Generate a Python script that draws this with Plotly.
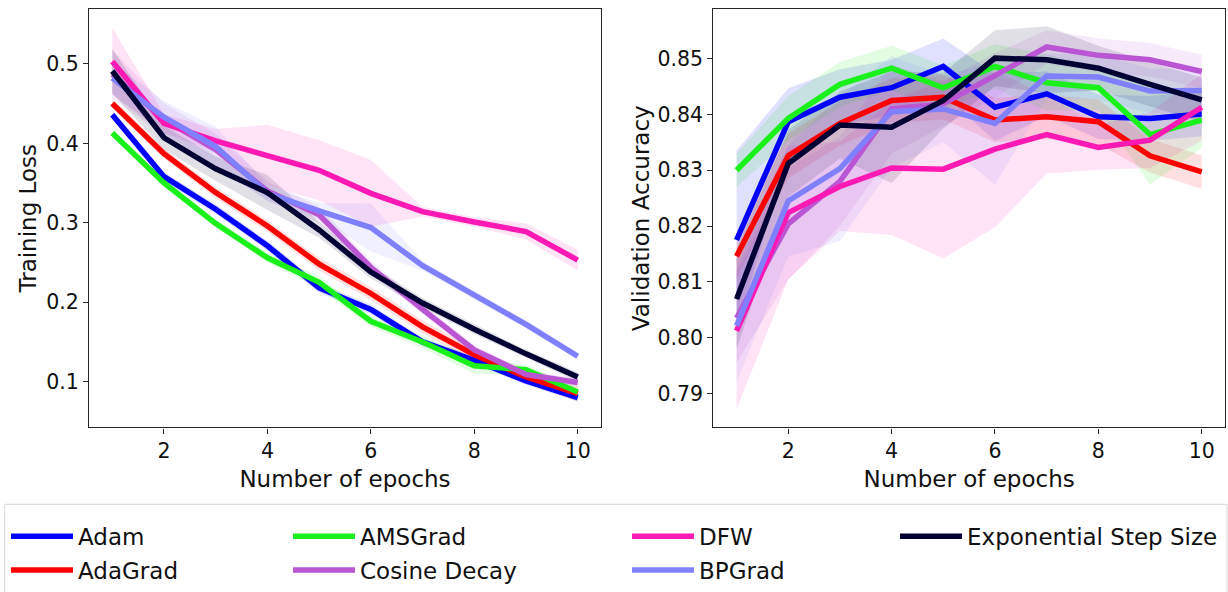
import plotly.graph_objects as go

epochs = [1, 2, 3, 4, 5, 6, 7, 8, 9, 10]
names = ["Adam", "AdaGrad", "AMSGrad", "Cosine Decay", "DFW", "BPGrad", "Exponential Step Size"]
colors = ["#0000ff", "#ff0000", "#1af01a", "#ba55d3", "#ff19b4", "#8080ff", "#000033"]

# Training loss (means)
loss_adam = [0.436, 0.358, 0.317, 0.271, 0.218, 0.191, 0.150, 0.127, 0.101, 0.080]
loss_adagrad = [0.450, 0.387, 0.338, 0.296, 0.248, 0.211, 0.169, 0.134, 0.106, 0.085]
loss_amsgrad = [0.413, 0.350, 0.299, 0.256, 0.225, 0.176, 0.150, 0.120, 0.115, 0.087]
loss_cosine = [0.487, 0.430, 0.392, 0.340, 0.310, 0.244, 0.191, 0.140, 0.109, 0.099]
loss_dfw = [0.503, 0.425, 0.403, 0.385, 0.366, 0.337, 0.314, 0.301, 0.289, 0.253]
loss_bpgrad = [0.482, 0.433, 0.396, 0.337, 0.315, 0.294, 0.246, 0.209, 0.172, 0.132]
loss_exp = [0.491, 0.407, 0.368, 0.338, 0.291, 0.238, 0.199, 0.166, 0.135, 0.106]

loss_adam_sd = [0.006, 0.006, 0.006, 0.006, 0.006, 0.006, 0.005, 0.005, 0.005, 0.005]
loss_adagrad_sd = [0.006, 0.006, 0.007, 0.007, 0.008, 0.008, 0.008, 0.008, 0.008, 0.010]
loss_amsgrad_sd = [0.005, 0.005, 0.005, 0.006, 0.008, 0.007, 0.008, 0.010, 0.006, 0.006]
loss_cosine_sd = [0.030, 0.020, 0.020, 0.012, 0.010, 0.008, 0.006, 0.006, 0.005, 0.005]
loss_dfw_sd = [0.042, 0.012, 0.015, 0.038, 0.038, 0.042, 0.006, 0.006, 0.010, 0.013]
loss_bpgrad_sd = [0.020, 0.020, 0.025, 0.010, 0.010, 0.030, 0.006, 0.006, 0.005, 0.005]
loss_exp_sd = [0.028, 0.015, 0.015, 0.022, 0.010, 0.008, 0.006, 0.006, 0.005, 0.006]

# Validation accuracy (means)
acc_adam = [0.8175, 0.8387, 0.8431, 0.8448, 0.8486, 0.8413, 0.8437, 0.8396, 0.8393, 0.8401]
acc_adagrad = [0.8146, 0.8326, 0.8384, 0.8425, 0.8431, 0.8390, 0.8396, 0.8387, 0.8326, 0.8297]
acc_amsgrad = [0.8300, 0.8393, 0.8454, 0.8483, 0.8448, 0.8486, 0.8457, 0.8448, 0.8364, 0.8390]
acc_cosine = [0.8035, 0.8204, 0.8280, 0.8410, 0.8419, 0.8470, 0.8521, 0.8506, 0.8498, 0.8477]
acc_dfw = [0.8012, 0.8224, 0.8271, 0.8304, 0.8302, 0.8338, 0.8364, 0.8341, 0.8354, 0.8413]
acc_bpgrad = [0.8021, 0.8245, 0.8303, 0.8405, 0.8410, 0.8384, 0.8469, 0.8467, 0.8442, 0.8443]
acc_exp = [0.8069, 0.8312, 0.8381, 0.8377, 0.8425, 0.8501, 0.8498, 0.8483, 0.8454, 0.8426]

acc_adam_sd = [0.016, 0.006, 0.005, 0.005, 0.005, 0.006, 0.004, 0.004, 0.004, 0.004]
acc_adagrad_sd = [0.004, 0.004, 0.004, 0.004, 0.004, 0.004, 0.004, 0.004, 0.003, 0.003]
acc_amsgrad_sd = [0.003, 0.004, 0.004, 0.004, 0.004, 0.004, 0.005, 0.004, 0.009, 0.005]
acc_cosine_sd = [0.008, 0.010, 0.008, 0.008, 0.004, 0.004, 0.003, 0.003, 0.003, 0.003]
acc_dfw_sd = [0.014, 0.012, 0.008, 0.012, 0.016, 0.014, 0.007, 0.004, 0.005, 0.006]
acc_bpgrad_sd = [0.010, 0.010, 0.013, 0.010, 0.006, 0.011, 0.004, 0.004, 0.004, 0.004]
acc_exp_sd = [0.009, 0.006, 0.006, 0.010, 0.005, 0.005, 0.006, 0.004, 0.004, 0.004]

loss_means = [loss_adam, loss_adagrad, loss_amsgrad, loss_cosine, loss_dfw, loss_bpgrad, loss_exp]
loss_sds = [loss_adam_sd, loss_adagrad_sd, loss_amsgrad_sd, loss_cosine_sd, loss_dfw_sd, loss_bpgrad_sd, loss_exp_sd]
acc_means = [acc_adam, acc_adagrad, acc_amsgrad, acc_cosine, acc_dfw, acc_bpgrad, acc_exp]
acc_sds = [acc_adam_sd, acc_adagrad_sd, acc_amsgrad_sd, acc_cosine_sd, acc_dfw_sd, acc_bpgrad_sd, acc_exp_sd]

legend_of = ["legend", "legend", "legend2", "legend2", "legend3", "legend3", "legend4"]

W, H = 1228, 592
FONT = "DejaVu Sans"


def rgba(hexc, a):
    h = hexc.lstrip("#")
    r, g, b = int(h[0:2], 16), int(h[2:4], 16), int(h[4:6], 16)
    return f"rgba({r},{g},{b},{a})"


fig = go.Figure()

for panel, (means, sds, xa, ya) in enumerate([(loss_means, loss_sds, "x", "y"), (acc_means, acc_sds, "x2", "y2")]):
    for i, name in enumerate(names):
        m = means[i]
        s = sds[i]
        upper = [a + b for a, b in zip(m, s)]
        lower = [a - b for a, b in zip(m, s)]
        fig.add_trace(go.Scatter(
            x=epochs + epochs[::-1], y=upper + lower[::-1],
            fill="toself", fillcolor=rgba(colors[i], 0.12),
            line=dict(width=0), mode="lines", hoverinfo="skip",
            showlegend=False, xaxis=xa, yaxis=ya))
    for i, name in enumerate(names):
        fig.add_trace(go.Scatter(
            x=epochs, y=means[i], mode="lines", name=name,
            line=dict(color=colors[i], width=5.5),
            showlegend=(panel == 0), legend=legend_of[i],
            legendgroup=name,
            xaxis=xa, yaxis=ya))

ydom = [1 - 439.3 / H, 1 - 9.3 / H]
axis_common = dict(
    showline=True, mirror=True, linecolor="#262626", linewidth=1.3,
    ticks="outside", ticklen=5, tickwidth=1.2, tickcolor="#262626",
    showgrid=False, zeroline=False,
    tickfont=dict(family=FONT, size=20.5, color="#111"),
)
TS = 23

fig.update_layout(
    width=W, height=H,
    margin=dict(l=0, r=0, t=0, b=0),
    paper_bgcolor="white", plot_bgcolor="white",
    font=dict(family=FONT, color="#111"),
    xaxis=dict(domain=[89 / W, 601 / W], range=[0.55, 10.45], tickvals=[2, 4, 6, 8, 10],
               title=dict(text="Number of epochs", font=dict(size=TS), standoff=8), anchor="y", **axis_common),
    yaxis=dict(domain=ydom, range=[0.0424, 0.569], tickvals=[0.1, 0.2, 0.3, 0.4, 0.5], tickformat=".1f",
               title=dict(text="Training Loss", font=dict(size=TS), standoff=3), anchor="x", **axis_common),
    xaxis2=dict(domain=[713.3 / W, 1225 / W], range=[0.55, 10.45], tickvals=[2, 4, 6, 8, 10],
                title=dict(text="Number of epochs", font=dict(size=TS), standoff=8), anchor="y2", **axis_common),
    yaxis2=dict(domain=ydom, range=[0.7839, 0.8589], tickvals=[0.79, 0.80, 0.81, 0.82, 0.83, 0.84, 0.85],
                tickformat=".2f",
                title=dict(text="Validation Accuracy", font=dict(size=TS), standoff=1), anchor="x2", **axis_common),
)

leg_common = dict(
    orientation="v", xanchor="left", yanchor="top", bgcolor="rgba(0,0,0,0)",
    borderwidth=0, font=dict(family=FONT, size=23, color="#111"), itemwidth=62,
    tracegroupgap=1,
)
col_x = [11, 293, 632, 900]
leg_y = 1 - 529 / H
fig.update_layout(
    legend=dict(x=(col_x[0] - 5) / W, y=leg_y, **leg_common),
    legend2=dict(x=(col_x[1] - 5) / W, y=leg_y, **leg_common),
    legend3=dict(x=(col_x[2] - 5) / W, y=leg_y, **leg_common),
    legend4=dict(x=(col_x[3] - 5) / W, y=leg_y, **leg_common),
)

fig.add_shape(type="rect", xref="paper", yref="paper",
              x0=4.7 / W, x1=1227 / W, y0=-0.05, y1=1 - 518.3 / H,
              line=dict(color="#d6d6d6", width=1), fillcolor="rgba(255,255,255,0)", layer="below")

fig.write_html("out.html")
